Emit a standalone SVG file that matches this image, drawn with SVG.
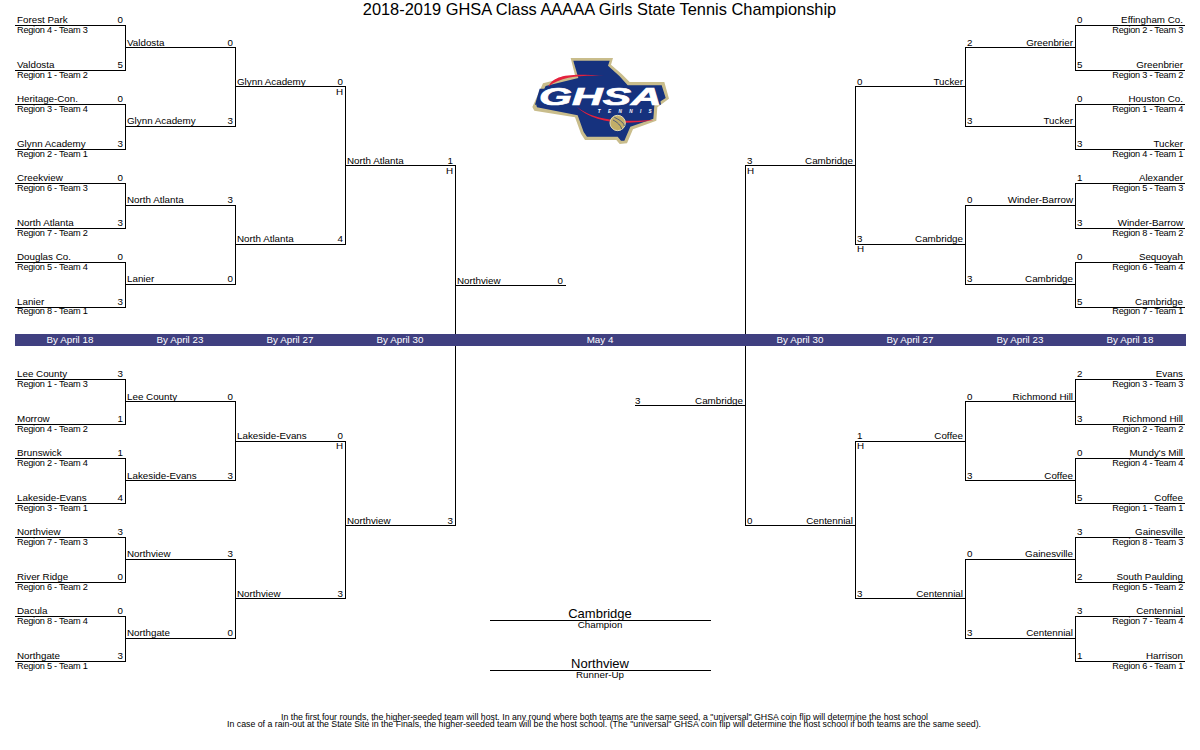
<svg xmlns="http://www.w3.org/2000/svg" width="1200" height="750" viewBox="0 0 1200 750">
<style>
text{font-family:"Liberation Sans",Arial,sans-serif;font-size:9.8px;fill:#000}
.e{text-anchor:end}.m{text-anchor:middle}
.r{font-size:9.2px;letter-spacing:-.25px}
.w{fill:#fff;text-anchor:middle}
.c path{fill:none;stroke:#000;stroke-width:1;shape-rendering:crispEdges}
.big{font-size:13px}
.title{font-size:16.4px}
.foot{font-size:9px}
</style>
<defs><filter id="soft" x="-5%" y="-5%" width="110%" height="110%"><feGaussianBlur stdDeviation="1.5"/></filter></defs>
<rect width="1200" height="750" fill="#fff"/>
<text id="title" class="m title" x="599.5" y="15">2018-2019 GHSA Class AAAAA Girls State Tennis Championship</text>
<g id="connectors" class="c">
<path d="M15 25.5H125.5V70.5H15M15 104.5H125.5V149.5H15M15 183.5H125.5V228.5H15M15 262.5H125.5V307.5H15"/>
<path d="M125 47.5H235.5V126.5H125M125 205.5H235.5V284.5H125M235 86.5H345.5V244.5H235M345 165.5H455.5V525.5H345M455 285.5H565.5"/>
<path d="M15 379.5H125.5V424.5H15M15 458.5H125.5V503.5H15M15 537.5H125.5V582.5H15M15 616.5H125.5V661.5H15"/>
<path d="M125 401.5H235.5V480.5H125M125 559.5H235.5V638.5H125M235 441.5H345.5V598.5H235"/>
<path d="M1185 25.5H1075.5V70.5H1185M1185 104.5H1075.5V149.5H1185M1185 183.5H1075.5V228.5H1185M1185 262.5H1075.5V307.5H1185"/>
<path d="M1075 47.5H965.5V126.5H1075M1075 205.5H965.5V284.5H1075M965 86.5H855.5V244.5H965M855 165.5H745.5V525.5H855M745 405.5H635"/>
<path d="M1185 379.5H1075.5V424.5H1185M1185 458.5H1075.5V503.5H1185M1185 537.5H1075.5V582.5H1185M1185 616.5H1075.5V661.5H1185"/>
<path d="M1075 401.5H965.5V480.5H1075M1075 559.5H965.5V638.5H1075M965 441.5H855.5V598.5H965"/>
<path d="M490 620.5H711M490 670.5H711"/>
</g>
<g id="date-bar">
<rect x="15" y="334" width="1171" height="12" fill="#404080"/>
<text class="w" x="70" y="343">By April 18</text><text class="w" x="180" y="343">By April 23</text><text class="w" x="290" y="343">By April 27</text><text class="w" x="400" y="343">By April 30</text><text class="w" x="600" y="343">May 4</text><text class="w" x="800" y="343">By April 30</text><text class="w" x="910" y="343">By April 27</text><text class="w" x="1020" y="343">By April 23</text><text class="w" x="1130" y="343">By April 18</text>
</g>
<g id="logo" transform="translate(525 52) scale(.33333)">
<g filter="url(#soft)">
<path d="M137 18H264L258 38L290 66L314 90L418 90L432 140L397 166L394 206L324 232L306 274L284 276L274 264L180 264L168 245L150 196L28 176L22 165L54 94L150 70Z" fill="#c9bd8c"/>
<path d="M145 26H254L249 41L283 72L308 100L410 100L422 138L388 160L385 200L316 224L298 266L288 266L278 254L186 254L176 240L158 190L36 166L34 160L62 102L160 78Z" fill="#14307e"/>
<path d="M70 104C86 70 130 62 240 72C170 70 110 72 70 104Z" fill="#e4203c"/>
<path d="M155 164C190 190 240 214 386 204C290 222 200 210 155 164Z" fill="#e4203c"/>
<path d="M44 110H400L408 158H30Z" fill="#14307e"/>
</g>
<text x="42" y="158" style="font-size:70px;font-weight:700;font-style:italic;fill:#fff;stroke:#fff;stroke-width:2" textLength="368" lengthAdjust="spacingAndGlyphs">GHSA</text>
<text x="218" y="183" style="font-size:14px;font-weight:700;font-style:italic;fill:#fff" textLength="162" lengthAdjust="spacing">TENNIS</text>
<circle cx="278" cy="213" r="23" fill="#c2ae68" stroke="#e3dcb5" stroke-width="3"/>
<path d="M264 204C276 210 288 220 290 232M268 196C280 202 296 210 298 222" fill="none" stroke="#14307e" stroke-width="2"/>
</g>
<g id="top-left-round1">
<g id="n-forest-park"><text x="17" y="23">Forest Park</text><text class="e" x="123" y="23">0</text><text class="r" x="17" y="33">Region 4 - Team 3</text></g>
<g id="n-valdosta"><text x="17" y="68">Valdosta</text><text class="e" x="123" y="68">5</text><text class="r" x="17" y="78">Region 1 - Team 2</text></g>
<g id="n-heritage"><text x="17" y="102">Heritage-Con.</text><text class="e" x="123" y="102">0</text><text class="r" x="17" y="112">Region 3 - Team 4</text></g>
<g id="n-glynn"><text x="17" y="147">Glynn Academy</text><text class="e" x="123" y="147">3</text><text class="r" x="17" y="157">Region 2 - Team 1</text></g>
<g id="n-creekview"><text x="17" y="181">Creekview</text><text class="e" x="123" y="181">0</text><text class="r" x="17" y="191">Region 6 - Team 3</text></g>
<g id="n-north-atlanta"><text x="17" y="226">North Atlanta</text><text class="e" x="123" y="226">3</text><text class="r" x="17" y="236">Region 7 - Team 2</text></g>
<g id="n-douglas"><text x="17" y="260">Douglas Co.</text><text class="e" x="123" y="260">0</text><text class="r" x="17" y="270">Region 5 - Team 4</text></g>
<g id="n-lanier"><text x="17" y="305">Lanier</text><text class="e" x="123" y="305">3</text><text class="r" x="17" y="314">Region 8 - Team 1</text></g>
</g>
<g id="top-left-later">
<g id="n-r2-valdosta"><text x="127" y="46">Valdosta</text><text class="e" x="233" y="46">0</text></g>
<g id="n-r2-glynn"><text x="127" y="124">Glynn Academy</text><text class="e" x="233" y="124">3</text></g>
<g id="n-r2-north-atlanta"><text x="127" y="203">North Atlanta</text><text class="e" x="233" y="203">3</text></g>
<g id="n-r2-lanier"><text x="127" y="282">Lanier</text><text class="e" x="233" y="282">0</text></g>
<g id="n-r3-glynn"><text x="237" y="85">Glynn Academy</text><text class="e" x="343" y="85">0</text><text class="e" x="343" y="95">H</text></g>
<g id="n-r3-north-atlanta"><text x="237" y="242">North Atlanta</text><text class="e" x="343" y="242">4</text></g>
<g id="n-r4-north-atlanta"><text x="347" y="164">North Atlanta</text><text class="e" x="453" y="164">1</text><text class="e" x="453" y="174">H</text></g>
<g id="n-r4-northview"><text x="347" y="524">Northview</text><text class="e" x="453" y="524">3</text></g>
<g id="n-final-northview"><text x="457" y="284">Northview</text><text class="e" x="563" y="284">0</text></g>
</g>
<g id="bottom-left-round1">
<g id="n-lee"><text x="17" y="377">Lee County</text><text class="e" x="123" y="377">3</text><text class="r" x="17" y="387">Region 1 - Team 3</text></g>
<g id="n-morrow"><text x="17" y="422">Morrow</text><text class="e" x="123" y="422">1</text><text class="r" x="17" y="432">Region 4 - Team 2</text></g>
<g id="n-brunswick"><text x="17" y="456">Brunswick</text><text class="e" x="123" y="456">1</text><text class="r" x="17" y="466">Region 2 - Team 4</text></g>
<g id="n-lakeside"><text x="17" y="501">Lakeside-Evans</text><text class="e" x="123" y="501">4</text><text class="r" x="17" y="511">Region 3 - Team 1</text></g>
<g id="n-northview"><text x="17" y="535">Northview</text><text class="e" x="123" y="535">3</text><text class="r" x="17" y="545">Region 7 - Team 3</text></g>
<g id="n-river-ridge"><text x="17" y="580">River Ridge</text><text class="e" x="123" y="580">0</text><text class="r" x="17" y="590">Region 6 - Team 2</text></g>
<g id="n-dacula"><text x="17" y="614">Dacula</text><text class="e" x="123" y="614">0</text><text class="r" x="17" y="624">Region 8 - Team 4</text></g>
<g id="n-northgate"><text x="17" y="659">Northgate</text><text class="e" x="123" y="659">3</text><text class="r" x="17" y="669">Region 5 - Team 1</text></g>
</g>
<g id="bottom-left-later">
<g id="n-r2-lee"><text x="127" y="400">Lee County</text><text class="e" x="233" y="400">0</text></g>
<g id="n-r2-lakeside"><text x="127" y="479">Lakeside-Evans</text><text class="e" x="233" y="479">3</text></g>
<g id="n-r2-northview"><text x="127" y="557">Northview</text><text class="e" x="233" y="557">3</text></g>
<g id="n-r2-northgate"><text x="127" y="636">Northgate</text><text class="e" x="233" y="636">0</text></g>
<g id="n-r3-lakeside"><text x="237" y="439">Lakeside-Evans</text><text class="e" x="343" y="439">0</text><text class="e" x="343" y="449">H</text></g>
<g id="n-r3-northview"><text x="237" y="597">Northview</text><text class="e" x="343" y="597">3</text></g>
</g>
<g id="top-right-round1">
<g id="n-effingham"><text class="e" x="1183" y="23">Effingham Co.</text><text x="1077" y="23">0</text><text class="e r" x="1183" y="33">Region 2 - Team 3</text></g>
<g id="n-greenbrier"><text class="e" x="1183" y="68">Greenbrier</text><text x="1077" y="68">5</text><text class="e r" x="1183" y="78">Region 3 - Team 2</text></g>
<g id="n-houston"><text class="e" x="1183" y="102">Houston Co.</text><text x="1077" y="102">0</text><text class="e r" x="1183" y="112">Region 1 - Team 4</text></g>
<g id="n-tucker"><text class="e" x="1183" y="147">Tucker</text><text x="1077" y="147">3</text><text class="e r" x="1183" y="157">Region 4 - Team 1</text></g>
<g id="n-alexander"><text class="e" x="1183" y="181">Alexander</text><text x="1077" y="181">1</text><text class="e r" x="1183" y="191">Region 5 - Team 3</text></g>
<g id="n-winder"><text class="e" x="1183" y="226">Winder-Barrow</text><text x="1077" y="226">3</text><text class="e r" x="1183" y="236">Region 8 - Team 2</text></g>
<g id="n-sequoyah"><text class="e" x="1183" y="260">Sequoyah</text><text x="1077" y="260">0</text><text class="e r" x="1183" y="270">Region 6 - Team 4</text></g>
<g id="n-cambridge"><text class="e" x="1183" y="305">Cambridge</text><text x="1077" y="305">5</text><text class="e r" x="1183" y="314">Region 7 - Team 1</text></g>
</g>
<g id="top-right-later">
<g id="n-r2-greenbrier"><text class="e" x="1073" y="46">Greenbrier</text><text x="967" y="46">2</text></g>
<g id="n-r2-tucker"><text class="e" x="1073" y="124">Tucker</text><text x="967" y="124">3</text></g>
<g id="n-r2-winder"><text class="e" x="1073" y="203">Winder-Barrow</text><text x="967" y="203">0</text></g>
<g id="n-r2-cambridge"><text class="e" x="1073" y="282">Cambridge</text><text x="967" y="282">3</text></g>
<g id="n-r3-tucker"><text class="e" x="963" y="85">Tucker</text><text x="857" y="85">0</text></g>
<g id="n-r3-cambridge"><text class="e" x="963" y="242">Cambridge</text><text x="857" y="242">3</text><text x="857" y="252">H</text></g>
<g id="n-r4-cambridge"><text class="e" x="853" y="164">Cambridge</text><text x="747" y="164">3</text><text x="747" y="174">H</text></g>
<g id="n-r4-centennial"><text class="e" x="853" y="524">Centennial</text><text x="747" y="524">0</text></g>
<g id="n-final-cambridge"><text class="e" x="743" y="404">Cambridge</text><text x="635" y="404">3</text></g>
</g>
<g id="bottom-right-round1">
<g id="n-evans"><text class="e" x="1183" y="377">Evans</text><text x="1077" y="377">2</text><text class="e r" x="1183" y="387">Region 3 - Team 3</text></g>
<g id="n-richmond"><text class="e" x="1183" y="422">Richmond Hill</text><text x="1077" y="422">3</text><text class="e r" x="1183" y="432">Region 2 - Team 2</text></g>
<g id="n-mundys"><text class="e" x="1183" y="456">Mundy's Mill</text><text x="1077" y="456">0</text><text class="e r" x="1183" y="466">Region 4 - Team 4</text></g>
<g id="n-coffee"><text class="e" x="1183" y="501">Coffee</text><text x="1077" y="501">5</text><text class="e r" x="1183" y="511">Region 1 - Team 1</text></g>
<g id="n-gainesville"><text class="e" x="1183" y="535">Gainesville</text><text x="1077" y="535">3</text><text class="e r" x="1183" y="545">Region 8 - Team 3</text></g>
<g id="n-south-paulding"><text class="e" x="1183" y="580">South Paulding</text><text x="1077" y="580">2</text><text class="e r" x="1183" y="590">Region 5 - Team 2</text></g>
<g id="n-centennial"><text class="e" x="1183" y="614">Centennial</text><text x="1077" y="614">3</text><text class="e r" x="1183" y="624">Region 7 - Team 4</text></g>
<g id="n-harrison"><text class="e" x="1183" y="659">Harrison</text><text x="1077" y="659">1</text><text class="e r" x="1183" y="669">Region 6 - Team 1</text></g>
</g>
<g id="bottom-right-later">
<g id="n-r2-richmond"><text class="e" x="1073" y="400">Richmond Hill</text><text x="967" y="400">0</text></g>
<g id="n-r2-coffee"><text class="e" x="1073" y="479">Coffee</text><text x="967" y="479">3</text></g>
<g id="n-r2-gainesville"><text class="e" x="1073" y="557">Gainesville</text><text x="967" y="557">0</text></g>
<g id="n-r2-centennial"><text class="e" x="1073" y="636">Centennial</text><text x="967" y="636">3</text></g>
<g id="n-r3-coffee"><text class="e" x="963" y="439">Coffee</text><text x="857" y="439">1</text><text x="857" y="449">H</text></g>
<g id="n-r3-centennial"><text class="e" x="963" y="597">Centennial</text><text x="857" y="597">3</text></g>
</g>
<g id="results">
<g id="n-champion"><text class="m big" x="600" y="618">Cambridge</text><text class="m" x="600" y="628">Champion</text></g>
<g id="n-runner-up"><text class="m big" x="600" y="668">Northview</text><text class="m" x="600" y="678">Runner-Up</text></g>
</g>
<g id="footnotes">
<text class="foot" x="281" y="720" textLength="647" lengthAdjust="spacingAndGlyphs">In the first four rounds, the higher-seeded team will host. In any round where both teams are the same seed, a "universal" GHSA coin flip will determine the host school</text>
<text class="foot" x="227" y="727" textLength="754" lengthAdjust="spacingAndGlyphs">In case of a rain-out at the State Site in the Finals, the higher-seeded team will be the host school. (The "universal" GHSA coin flip will determine the host school if both teams are the same seed).</text>
</g>
</svg>
